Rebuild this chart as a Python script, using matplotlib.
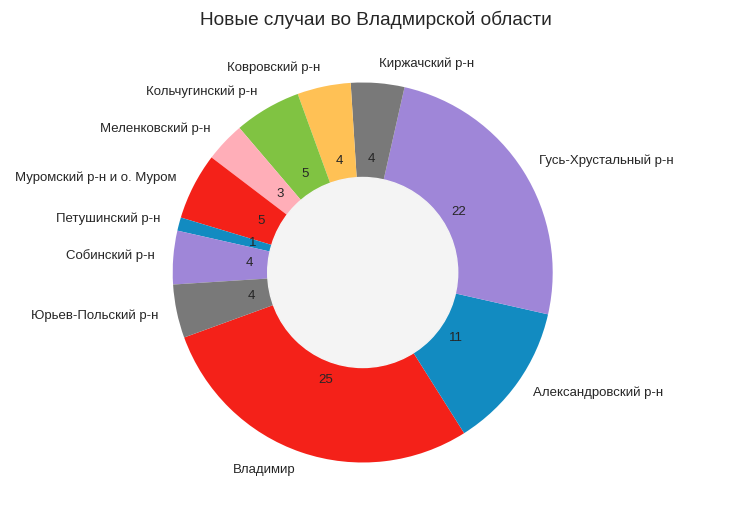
import matplotlib
matplotlib.use("Agg")
import matplotlib.pyplot as plt

plt.rcParams['font.family'] = ['Liberation Sans', 'DejaVu Sans']

labels = ['Владимир', 'Александровский р-н', 'Гусь-Хрустальный р-н', 'Киржачский р-н',
          'Ковровский р-н', 'Кольчугинский р-н', 'Меленковский р-н',
          'Муромский р-н и о. Муром', 'Петушинский р-н', 'Собинский р-н',
          'Юрьев-Польский р-н']
values = [25, 11, 22, 4, 4, 5, 3, 5, 1, 4, 4]
palette = ['#f42119', '#128bc1', '#9f86d8', '#797979', '#ffc155', '#80c342', '#ffaeb8']
colors = [palette[i % len(palette)] for i in range(len(values))]

fig = plt.figure(figsize=(7.52, 5.2), dpi=100)
ax = fig.add_axes([0.0, 0.0, 1.0, 0.9])
total = sum(values)
wedges, texts, autotexts = ax.pie(
    values, labels=labels, colors=colors, startangle=-160,
    autopct=lambda p: f'{round(p * total / 100):.0f}', pctdistance=0.6,
    labeldistance=1.1, textprops={'fontsize': 9.5, 'color': '#262626'})
for t in autotexts:
    t.set_color('#262626')
ax.add_artist(plt.Circle((0, 0), 0.5, color='#f4f4f4'))
ax.set_aspect('equal')
ax.set_xlim(-1.0, 1.0)
ax.set_ylim(-1.0, 1.0)
fig.text(0.5, 0.961, 'Новые случаи во Владмирской области', ha='center', va='center',
         fontsize=13.7, color='#262626')

# position the pie: center (362.7, 272.5) px, radius 190 px
W, H = 752, 520
r = 190
cx, cy = 362.7, 272.5
ax.set_position([(cx - r) / W, (H - cy - r) / H, 2 * r / W, 2 * r / H])
fig.savefig('out.png', dpi=100)
